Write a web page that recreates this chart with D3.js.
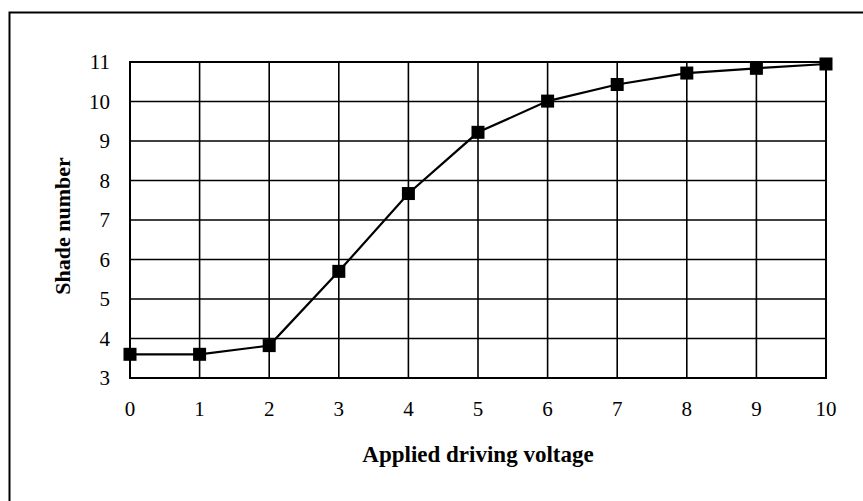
<!DOCTYPE html>
<html lang="en">
<head>
<meta charset="utf-8">
<title>Shade number vs applied driving voltage</title>
<script src="https://d3js.org/d3.v7.min.js"></script>
<style>
  body { margin: 0; background: #fff; }
  svg text { font-family: "Liberation Serif", "DejaVu Serif", serif; fill: #000; }
</style>
</head>
<body>
<div id="chart"></div>
<script>
// data
var voltages = [0, 1, 2, 3, 4, 5, 6, 7, 8, 9, 10];
var shades   = [3.6, 3.6, 3.82, 5.7, 7.67, 9.22, 10.01, 10.43, 10.72, 10.84, 10.95];
var xTicks = [0, 1, 2, 3, 4, 5, 6, 7, 8, 9, 10];
var yTicks = [3, 4, 5, 6, 7, 8, 9, 10, 11];

var W = 863, H = 501;
var margin = {top: 62, right: 37, bottom: 123, left: 130},
    width = W - margin.left - margin.right,
    height = H - margin.top - margin.bottom;

var root = d3.select("#chart").append("svg")
    .attr("width", W)
    .attr("height", H);

// outer frame (only top and left edges are visible)
root.append("path")
    .attr("d", "M9.5,501 V12.5 H863")
    .attr("fill", "none")
    .attr("stroke", "#000")
    .attr("stroke-width", 2);

var svg = root.append("g")
    .attr("transform", "translate(" + margin.left + "," + margin.top + ")");

var x = d3.scaleLinear().domain([0, 10]).range([0, width]);
var y = d3.scaleLinear().domain([3, 11]).range([height, 0]);

// grid
svg.selectAll(".hgrid")
  .data(yTicks)
  .enter().append("line")
    .attr("x1", 0).attr("x2", width)
    .attr("y1", function(d){ return y(d); })
    .attr("y2", function(d){ return y(d); })
    .attr("stroke", "#000")
    .attr("stroke-width", 1.6);

svg.selectAll(".vgrid")
  .data(xTicks)
  .enter().append("line")
    .attr("x1", function(d){ return x(d); })
    .attr("x2", function(d){ return x(d); })
    .attr("y1", 0).attr("y2", height)
    .attr("stroke", "#000")
    .attr("stroke-width", 1.6);

svg.append("rect")
    .attr("width", width).attr("height", height)
    .attr("fill", "none")
    .attr("stroke", "#000")
    .attr("stroke-width", 2);

// tick labels
svg.selectAll(".ylab")
  .data(yTicks)
  .enter().append("text")
    .attr("x", -20)
    .attr("y", function(d){ return y(d); })
    .attr("dy", "0.35em")
    .attr("text-anchor", "end")
    .style("font-size", "21px")
    .text(function(d){ return d; });

svg.selectAll(".xlab")
  .data(xTicks)
  .enter().append("text")
    .attr("x", function(d){ return x(d); })
    .attr("y", height + 38)
    .attr("text-anchor", "middle")
    .style("font-size", "21px")
    .text(function(d){ return d; });

// axis titles
svg.append("text")
    .attr("x", width / 2)
    .attr("y", height + 84)
    .attr("text-anchor", "middle")
    .style("font-size", "23px")
    .style("font-weight", "bold")
    .text("Applied driving voltage");

svg.append("text")
    .attr("transform", "translate(-60," + (y(7) + 6) + ")rotate(-90)")
    .attr("text-anchor", "middle")
    .style("font-size", "22px")
    .style("font-weight", "bold")
    .text("Shade number");

// line + markers
var pts = voltages.map(function(v, i){ return [v, shades[i]]; });

svg.append("path")
    .datum(pts)
    .attr("fill", "none")
    .attr("stroke", "#000")
    .attr("stroke-width", 2.2)
    .attr("d", d3.line()
        .x(function(d){ return x(d[0]); })
        .y(function(d){ return y(d[1]); }));

var ms = 13;
svg.selectAll(".mark")
  .data(pts)
  .enter().append("rect")
    .attr("x", function(d){ return x(d[0]) - ms / 2; })
    .attr("y", function(d){ return y(d[1]) - ms / 2; })
    .attr("width", ms).attr("height", ms)
    .attr("fill", "#000");
</script>
</body>
</html>
